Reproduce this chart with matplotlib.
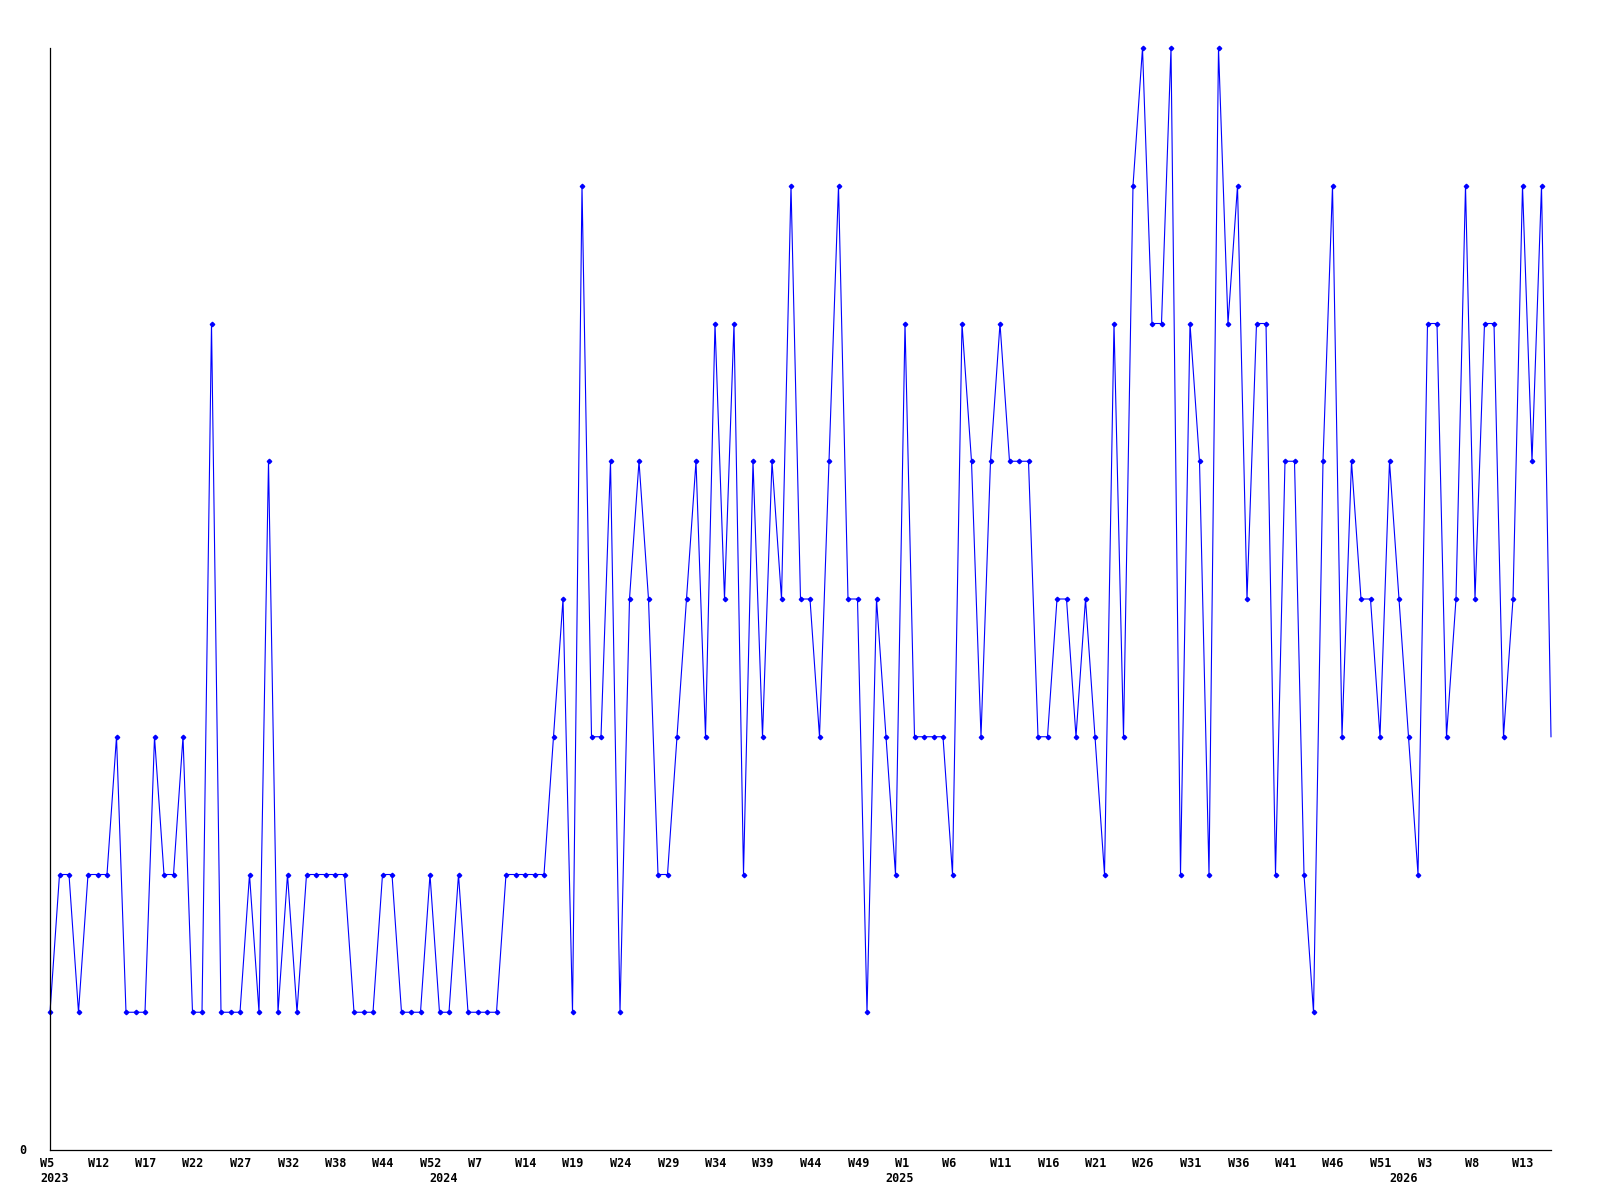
import matplotlib
matplotlib.use('Agg')
import matplotlib.pyplot as plt
import matplotlib.transforms as mtransforms

# weekly counts, one value per point
values = [1, 2, 2, 1, 2, 2, 2, 3, 1, 1, 1, 3, 2, 2, 3, 1, 1, 6, 1, 1, 1,
          2, 1, 5, 1, 2, 1, 2, 2, 2, 2, 2, 1, 1, 1, 2, 2, 1, 1, 1, 2,
          1, 1, 2, 1, 1, 1, 1, 2, 2, 2, 2, 2, 3, 4, 1, 7, 3, 3, 5, 1,
          4, 5, 4, 2, 2, 3, 4, 5, 3, 6, 4, 6, 2, 5, 3, 5, 4, 7, 4, 4,
          3, 5, 7, 4, 4, 1, 4, 3, 2, 6, 3, 3, 3, 3, 2, 6, 5, 3, 5, 6,
          5, 5, 5, 3, 3, 4, 4, 3, 4, 3, 2, 6, 3, 7, 8, 6, 6, 8, 2, 6,
          5, 2, 8, 6, 7, 4, 6, 6, 2, 5, 5, 2, 1, 5, 7, 3, 5, 4, 4, 3,
          5, 4, 3, 2, 6, 6, 3, 4, 7, 4, 6, 6, 3, 4, 7, 5, 7, 3]

# one week label every 5 points
week_labels = ['W5', 'W12', 'W17', 'W22', 'W27', 'W32', 'W38', 'W44', 'W52',
               'W7', 'W14', 'W19', 'W24', 'W29', 'W34', 'W39', 'W44', 'W49',
               'W1', 'W6', 'W11', 'W16', 'W21', 'W26', 'W31', 'W36', 'W41',
               'W46', 'W51', 'W3', 'W8', 'W13']
week_label_step = 5

years = ['2023', '2024', '2025', '2026']
year_points = [0, 41, 89, 142]


def main():
    fig = plt.figure(figsize=(16, 12), dpi=100)
    ax = fig.add_axes([50 / 1600, 1 - 1150 / 1200, 1501 / 1600, 1102 / 1200])

    x = list(range(len(values)))
    ax.plot(x, values, color='#0000ff', lw=0.8, marker=(4, 0, 0), ms=3.2,
            markevery=list(range(len(values) - 1)), clip_on=False)

    ax.set_xlim(0, len(values) - 1)
    ax.set_ylim(0, 8)

    for side in ['top', 'right']:
        ax.spines[side].set_visible(False)
    for side in ['left', 'bottom']:
        ax.spines[side].set_linewidth(0.9)
        ax.spines[side].set_color('black')
    ax.set_xticks([])
    ax.set_yticks([])

    font = dict(family='DejaVu Sans Mono', weight='bold', size=8.5)
    trans = mtransforms.blended_transform_factory(ax.transData, fig.transFigure)

    # labels start a bit left of their point, like the original
    shift = 10 / 9.5
    for k, lab in enumerate(week_labels):
        ax.text(k * week_label_step - shift, 1 - 1157 / 1200, lab, ha='left',
                va='top', transform=trans, clip_on=False, **font)
    for yr, p in zip(years, year_points):
        ax.text(p - shift, 1 - 1172 / 1200, yr, ha='left', va='top',
                transform=trans, clip_on=False, **font)

    fig.text(23 / 1600, 1 - 1151 / 1200, '0', ha='center', va='center', **font)

    fig.savefig('out.png', dpi=100, facecolor='white')


if __name__ == "__main__":
    main()
